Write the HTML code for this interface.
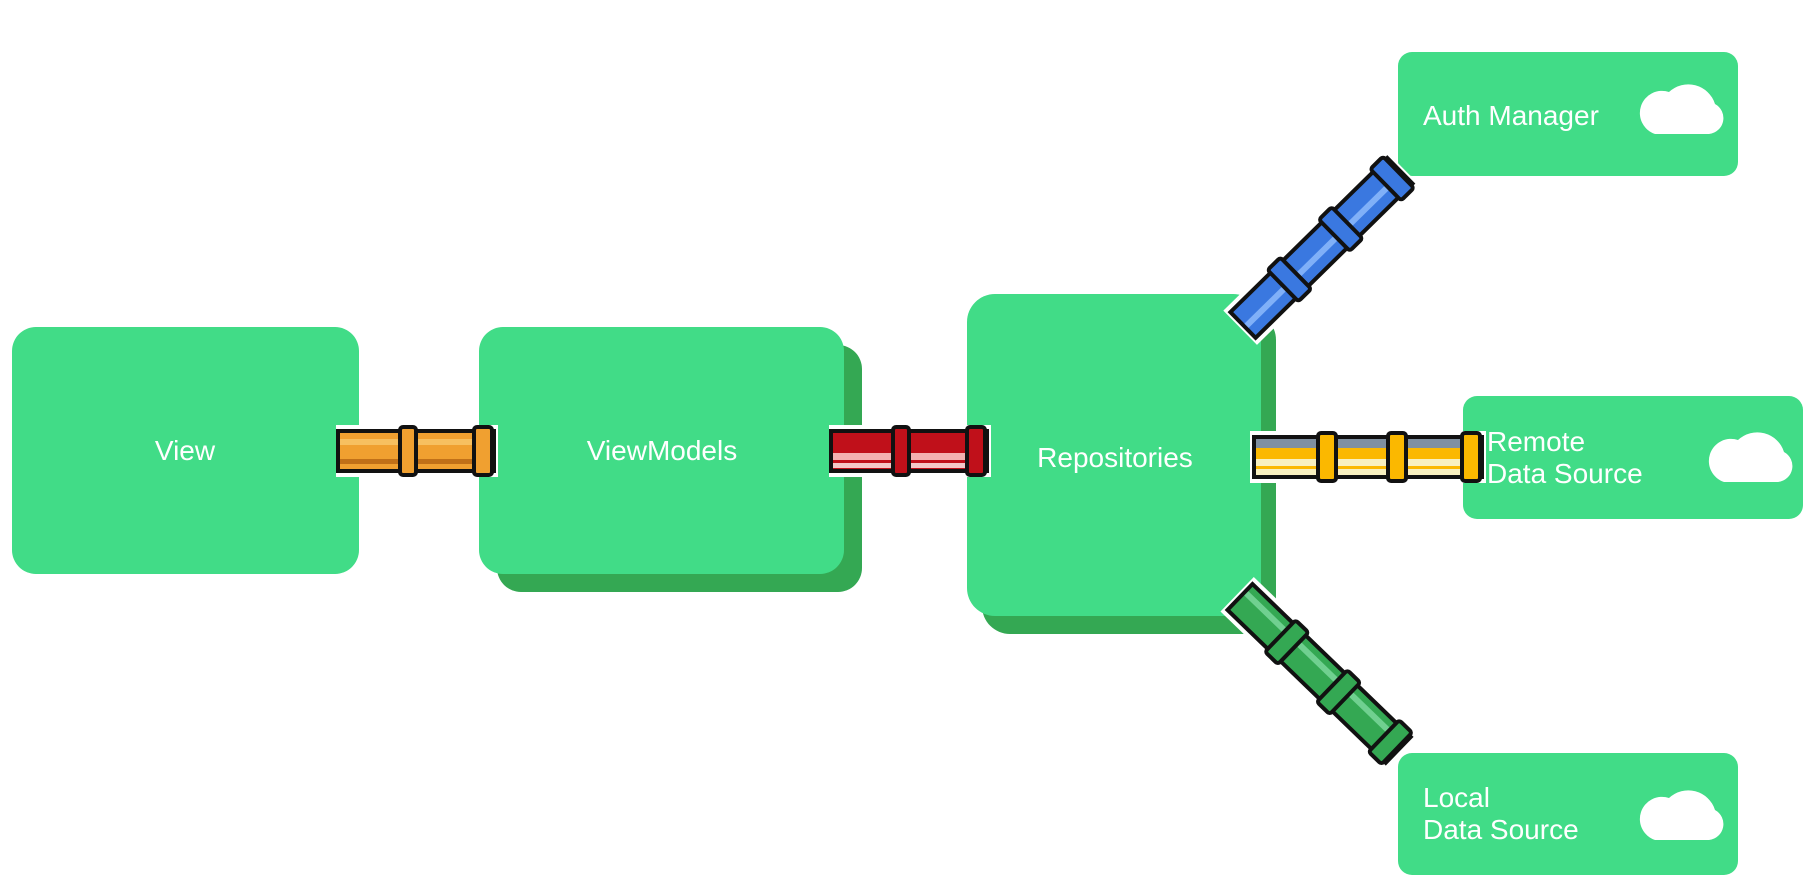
<!DOCTYPE html>
<html><head><meta charset="utf-8"><style>
html,body{margin:0;padding:0;background:#fff;}
svg{display:block;}
text{font-family:"Liberation Sans",sans-serif;fill:#fff;font-size:28px;}
</style></head><body>
<svg width="1811" height="881" viewBox="0 0 1811 881" xmlns="http://www.w3.org/2000/svg">
<defs>
<g id="orange">
  <rect x="-2" y="-26" width="162" height="52" fill="#fff"/>
  <rect x="0" y="-20" width="156" height="40" fill="#f0a030" stroke="#111" stroke-width="4"/>
  <rect x="2" y="-12" width="152" height="6" fill="#f7c060"/>
  <rect x="2" y="8" width="152" height="5" fill="#c07018"/>
  <rect x="62" y="-24" width="16" height="48" rx="3" fill="#f0a030" stroke="#111" stroke-width="4"/>
  <rect x="136" y="-24" width="18" height="48" rx="3" fill="#f0a030" stroke="#111" stroke-width="4"/>
</g>
<g id="red">
  <rect x="-2" y="-26" width="162" height="52" fill="#fff"/>
  <rect x="0" y="-20" width="156" height="40" fill="#c0101a" stroke="#111" stroke-width="4"/>
  <rect x="2" y="2" width="152" height="7" fill="#f4b0b0"/>
  <rect x="2" y="12" width="152" height="5" fill="#f4c8c8"/>
  <rect x="62" y="-24" width="16" height="48" rx="3" fill="#c0101a" stroke="#111" stroke-width="4"/>
  <rect x="136" y="-24" width="18" height="48" rx="3" fill="#c0101a" stroke="#111" stroke-width="4"/>
</g>
<g id="yellow">
  <rect x="-4" y="-26" width="236" height="52" fill="#fff"/>
  <rect x="0" y="-20" width="228" height="40" fill="#fbb800" stroke="#111" stroke-width="4"/>
  <rect x="2" y="-18" width="224" height="9" fill="#8090a0"/>
  <rect x="2" y="2" width="224" height="7" fill="#f8f0c0"/>
  <rect x="2" y="12" width="224" height="6" fill="#f8f0c0"/>
  <rect x="64" y="-24" width="18" height="48" rx="3" fill="#fbb800" stroke="#111" stroke-width="4"/>
  <rect x="134" y="-24" width="18" height="48" rx="3" fill="#fbb800" stroke="#111" stroke-width="4"/>
  <rect x="208" y="-24" width="18" height="48" rx="3" fill="#fbb800" stroke="#111" stroke-width="4"/>
</g>
<g id="blue">
  <rect x="-4" y="-24" width="228" height="48" fill="#fff"/>
  <rect x="0" y="-18" width="220" height="36" fill="#3a78e0" stroke="#111" stroke-width="4"/>
  <rect x="2" y="0" width="216" height="6" fill="#80b0f8"/>
  <rect x="56" y="-22" width="18" height="44" rx="3" fill="#3a78e0" stroke="#111" stroke-width="4"/>
  <rect x="128" y="-22" width="18" height="44" rx="3" fill="#3a78e0" stroke="#111" stroke-width="4"/>
  <rect x="200" y="-22" width="18" height="44" rx="3" fill="#3a78e0" stroke="#111" stroke-width="4"/>
</g>
<g id="green">
  <rect x="-4" y="-24" width="228" height="48" fill="#fff"/>
  <rect x="0" y="-18" width="220" height="36" fill="#34a853" stroke="#111" stroke-width="4"/>
  <rect x="2" y="-10" width="216" height="6" fill="#70d090"/>
  <rect x="56" y="-22" width="18" height="44" rx="3" fill="#34a853" stroke="#111" stroke-width="4"/>
  <rect x="128" y="-22" width="18" height="44" rx="3" fill="#34a853" stroke="#111" stroke-width="4"/>
  <rect x="200" y="-22" width="18" height="44" rx="3" fill="#34a853" stroke="#111" stroke-width="4"/>
</g>
<g id="cloud">
  <path d="M-28,22 h54 a16,16 0 0 0 6,-30 a28,28 0 0 0 -46,-12 a16,16 0 0 0 -14,42 z" fill="#fff"/>
</g>
</defs>

<rect x="12" y="327" width="347" height="247" rx="24" fill="#41dc87"/>
<text x="185" y="460" text-anchor="middle">View</text>

<rect x="497" y="345" width="365" height="247" rx="24" fill="#34a853"/>
<rect x="479" y="327" width="365" height="247" rx="24" fill="#41dc87"/>
<text x="662" y="460" text-anchor="middle">ViewModels</text>

<rect x="982" y="312" width="294" height="322" rx="28" fill="#34a853"/>
<rect x="967" y="294" width="294" height="322" rx="28" fill="#41dc87"/>
<text x="1115" y="467" text-anchor="middle">Repositories</text>

<rect x="1398" y="52" width="340" height="124" rx="14" fill="#41dc87"/>
<text x="1423" y="125">Auth Manager</text>
<use href="#cloud" x="1683" y="112"/>

<rect x="1463" y="396" width="340" height="123" rx="14" fill="#41dc87"/>
<text x="1487" y="451">Remote</text>
<text x="1487" y="483">Data Source</text>
<use href="#cloud" x="1752" y="460"/>

<rect x="1398" y="753" width="340" height="122" rx="14" fill="#41dc87"/>
<text x="1423" y="807">Local</text>
<text x="1423" y="839">Data Source</text>
<use href="#cloud" x="1683" y="818"/>

<use href="#orange" x="338" y="451"/>
<use href="#red" x="831" y="451"/>
<use href="#yellow" x="1254" y="457"/>
<use href="#blue" transform="translate(1243,325) rotate(-44.5)"/>
<use href="#green" transform="translate(1240,597) rotate(44)"/>
</svg>
</body></html>
